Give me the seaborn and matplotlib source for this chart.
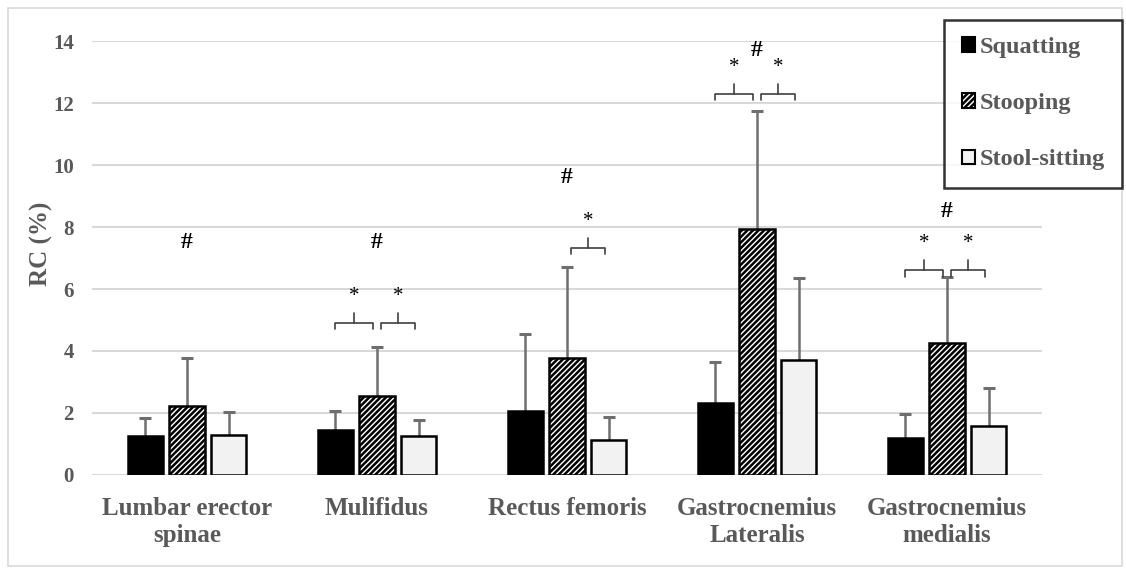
import numpy as np
import pandas as pd
import matplotlib
matplotlib.use("Agg")
import matplotlib.pyplot as plt
import matplotlib.patches as mpatches
import seaborn as sns

# Muscles (x categories) and postures (hue levels)
muscles = ["Lumbar erector\nspinae", "Mulifidus", "Rectus femoris",
           "Gastrocnemius\nLateralis", "Gastrocnemius\nmedialis"]
postures = ["Squatting", "Stooping", "Stool-sitting"]

# Mean RC (%) per posture, one value per muscle
squat_mean = [1.25, 1.45, 2.05, 2.32, 1.18]
stoop_mean = [2.22, 2.55, 3.78, 7.92, 4.25]
stool_mean = [1.30, 1.25, 1.12, 3.72, 1.58]

# Standard deviations (upper whiskers)
squat_sd = [0.58, 0.62, 2.50, 1.32, 0.80]
stoop_sd = [1.55, 1.58, 2.93, 3.82, 2.15]
stool_sd = [0.74, 0.53, 0.74, 2.63, 1.23]

# Significance markers: '#' height per muscle, '*' brackets (muscle, side, height)
hash_y = [7.5, 7.5, 9.6, 13.7, 8.5]
star_brackets = [(1, "left", 4.9), (1, "right", 4.9),
                 (2, "right", 7.32),
                 (3, "left", 12.3), (3, "right", 12.3),
                 (4, "left", 6.6), (4, "right", 6.6)]

y_ticks = [0, 2, 4, 6, 8, 10, 12, 14]

df = pd.DataFrame({
    "muscle": muscles * 3,
    "posture": sum([[p] * len(muscles) for p in postures], []),
    "rc": squat_mean + stoop_mean + stool_mean,
})
sds = [squat_sd, stoop_sd, stool_sd]

sns.set_theme(style="white")
plt.rcParams["font.family"] = ["Liberation Serif", "DejaVu Serif"]
plt.rcParams["hatch.linewidth"] = 1.8
plt.rcParams["hatch.color"] = "black"

text_gray = "#595959"
grid_gray = "#d9d9d9"
HATCH = "//////"

fig = plt.figure(figsize=(11.26, 5.70), dpi=100)
ax = fig.add_axes([0.0817, 0.1667, 0.8437, 0.7613])

palette = {"Squatting": "black", "Stooping": "white", "Stool-sitting": "#f2f2f2"}
sns.barplot(data=df, x="muscle", y="rc", hue="posture", order=muscles,
            hue_order=postures, palette=palette, width=0.66, gap=0.16,
            errorbar=None, edgecolor="black", linewidth=1.8, ax=ax,
            legend=False, zorder=3)

# hatch the stooping bars
for bar in ax.containers[1]:
    bar.set_hatch(HATCH)

# upper whiskers only
for cont, sd in zip(ax.containers, sds):
    xs = [b.get_x() + b.get_width() / 2 for b in cont]
    hs = [b.get_height() for b in cont]
    eb = ax.errorbar(xs, hs, yerr=[np.zeros(len(sd)), sd], fmt="none",
                     ecolor="#6e6e6e", elinewidth=1.8, capsize=4,
                     capthick=2.2, zorder=2)
    for cap in eb[1]:
        if np.allclose(cap.get_ydata(), hs):
            cap.set_visible(False)

# group centres from the bars
centers = [b.get_x() + b.get_width() / 2 for b in ax.containers[1]]
left_c = [b.get_x() + b.get_width() / 2 for b in ax.containers[0]]
right_c = [b.get_x() + b.get_width() / 2 for b in ax.containers[2]]

for xc, yh in zip(centers, hash_y):
    ax.text(xc, yh, "#", ha="center", va="center", fontsize=17,
            fontweight="bold", color="black", clip_on=False, zorder=5)

bk = "#404040"
for mi, side, yb in star_brackets:
    if side == "left":
        x0, x1 = left_c[mi], centers[mi] - 0.02
    else:
        x0, x1 = centers[mi] + 0.02, right_c[mi] - 0.02
    xm = (x0 + x1) / 2
    ax.plot([x0, x0, x1, x1], [yb - 0.2, yb, yb, yb - 0.2], color=bk,
            lw=1.2, clip_on=False, zorder=5, solid_joinstyle="round")
    ax.plot([xm, xm], [yb, yb + 0.32], color=bk, lw=1.2, clip_on=False, zorder=5)
    ax.text(xm, yb + 0.55, "*", ha="center", va="bottom", fontsize=15,
            color="black", clip_on=False, zorder=5)

ax.set_ylim(0, 14)
ax.set_xlim(-0.5, 4.5)
ax.set_yticks(y_ticks)
ax.yaxis.grid(True, color=grid_gray, lw=1.5, zorder=0)
ax.set_axisbelow(True)
for s in ax.spines.values():
    s.set_visible(False)
ax.tick_params(axis="y", length=0, pad=13)
ax.tick_params(axis="x", length=0, pad=16)
for lab in ax.get_yticklabels():
    lab.set_fontsize(15)
    lab.set_fontweight("bold")
    lab.set_color(text_gray)
for lab in ax.get_xticklabels():
    lab.set_fontsize(18)
    lab.set_fontweight("bold")
    lab.set_color(text_gray)
    lab.set_linespacing(1.2)
ax.set_xlabel("")
ax.set_ylabel("RC (%)", fontsize=18, fontweight="bold", color=text_gray)
ax.yaxis.set_label_coords(-0.0412, 0.532)

handles = [mpatches.Patch(facecolor=palette[p], edgecolor="black", lw=1.5,
                          hatch=HATCH if p == "Stooping" else None)
           for p in postures]
leg = fig.legend(handles, postures, loc="upper right",
                 bbox_to_anchor=(1122 / 1126, 1 - 20 / 570),
                 frameon=True, fancybox=False, handlelength=0.55,
                 handleheight=0.55, handletextpad=0.2, labelspacing=1.45,
                 borderpad=0.7, borderaxespad=0,
                 prop={"family": "Liberation Serif", "weight": "bold", "size": 17.5})
leg.get_frame().set_edgecolor("black")
leg.get_frame().set_linewidth(1.8)
for t in leg.get_texts():
    t.set_color(text_gray)

# thin outer border around the chart
fig.patches.append(mpatches.Rectangle((8 / 1126, 4 / 570), 1 - 12 / 1126,
                                      1 - 12 / 570, transform=fig.transFigure,
                                      fill=False, edgecolor=grid_gray, lw=1.2))

fig.savefig("out.png", dpi=100)
